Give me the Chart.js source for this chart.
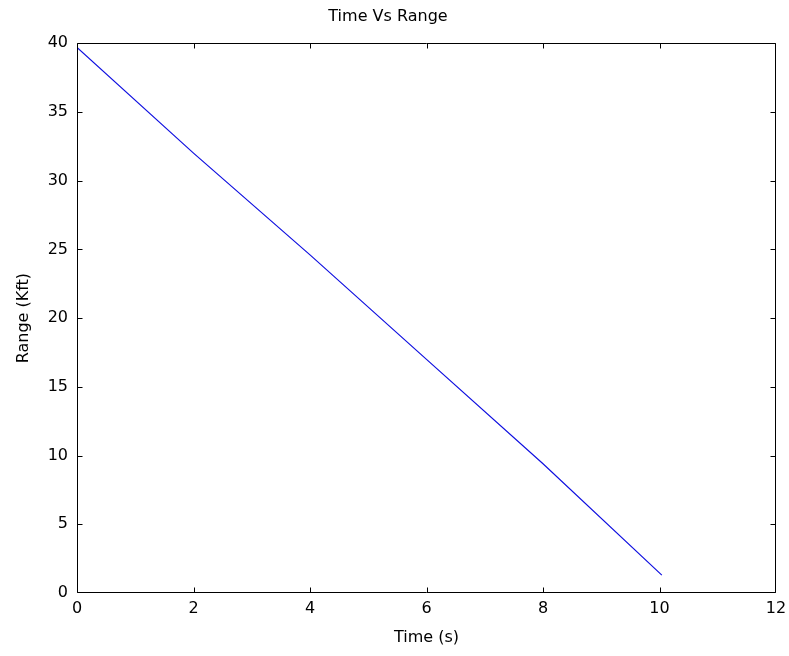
<!DOCTYPE html>
<html>
<head>
<meta charset="utf-8">
<script src="https://cdn.jsdelivr.net/npm/chart.js@4/dist/chart.umd.min.js"></script>
<style>
  html, body { margin: 0; padding: 0; background: #fff; }
  #wrap { width: 789px; height: 656px; }
</style>
</head>
<body>
<div id="wrap"><canvas id="plot"></canvas></div>
<script>
// values
var timeValues = [0, 2, 4, 6, 8, 10.04];
var rangeValues = [39.7, 32.0, 24.6, 17.0, 9.4, 1.3];
var xTicks = [0, 2, 4, 6, 8, 10, 12];
var yTicks = [0, 5, 10, 15, 20, 25, 30, 35, 40];

var FONT = "'DejaVu Sans', sans-serif";

// MATLAB style box with inward ticks on all four sides
var boxTicks = {
  id: "boxTicks",
  afterDraw: function (chart) {
    var ctx = chart.ctx, a = chart.chartArea;
    var x = chart.scales.x, y = chart.scales.y;
    var len = 5;
    var l = Math.round(a.left) + 0.5, r = Math.round(a.right) - 0.5;
    var t = Math.round(a.top) + 0.5, b = Math.round(a.bottom) - 0.5;
    ctx.save();
    ctx.strokeStyle = "#000";
    ctx.lineWidth = 1;
    ctx.beginPath();
    ctx.rect(l, t, r - l, b - t);
    xTicks.forEach(function (v) {
      var px = Math.round(x.getPixelForValue(v)) + 0.5;
      if (v === 0) px = l;
      if (v === 12) px = r;
      ctx.moveTo(px, b); ctx.lineTo(px, b - len);
      ctx.moveTo(px, t); ctx.lineTo(px, t + len);
    });
    yTicks.forEach(function (v) {
      var py = Math.round(y.getPixelForValue(v)) + 0.5;
      if (v === 0) py = b;
      if (v === 40) py = t;
      ctx.moveTo(l, py); ctx.lineTo(l + len, py);
      ctx.moveTo(r, py); ctx.lineTo(r - len, py);
    });
    ctx.stroke();
    ctx.restore();
  }
};

var ctx = document.getElementById("plot").getContext("2d");
var chart = new Chart(ctx, {
  type: "line",
  data: {
    datasets: [{
      data: timeValues.map(function (t, i) { return { x: t, y: rangeValues[i] }; }),
      borderColor: "#1010e0",
      borderWidth: 1.2,
      pointRadius: 0,
      fill: false,
      tension: 0
    }]
  },
  options: {
    responsive: true,
    maintainAspectRatio: false,
    animation: false,
    layout: { padding: { left: 0, right: 13, top: 0, bottom: 0 } },
    plugins: {
      legend: { display: false },
      tooltip: { enabled: false },
      title: {
        display: true,
        text: "Time Vs Range",
        color: "#000",
        font: { family: FONT, size: 16, weight: "normal" },
        padding: { top: 7, bottom: 17 }
      }
    },
    scales: {
      x: {
        type: "linear",
        min: 0, max: 12,
        afterBuildTicks: function (s) { s.ticks = xTicks.map(function (v) { return { value: v }; }); },
        afterFit: function (s) { s.height = 63; s.paddingLeft = 0; s.paddingRight = 0; },
        grid: { display: false, drawTicks: false },
        border: { display: false },
        ticks: { color: "#000", padding: 6, font: { family: FONT, size: 16 } },
        title: {
          display: true, text: "Time (s)", color: "#000",
          font: { family: FONT, size: 16 },
          padding: { top: 0, bottom: 9 }
        }
      },
      y: {
        type: "linear",
        min: 0, max: 40,
        afterBuildTicks: function (s) { s.ticks = yTicks.map(function (v) { return { value: v }; }); },
        afterFit: function (s) { s.width = 77; s.paddingTop = 0; s.paddingBottom = 0; },
        grid: { display: false, drawTicks: false },
        border: { display: false },
        ticks: { color: "#000", padding: 9, font: { family: FONT, size: 16 } },
        title: {
          display: true, text: "Range (Kft)", color: "#000",
          font: { family: FONT, size: 16 },
          padding: { top: 14, bottom: 0 }
        }
      }
    }
  },
  plugins: [boxTicks]
});
</script>
</body>
</html>
